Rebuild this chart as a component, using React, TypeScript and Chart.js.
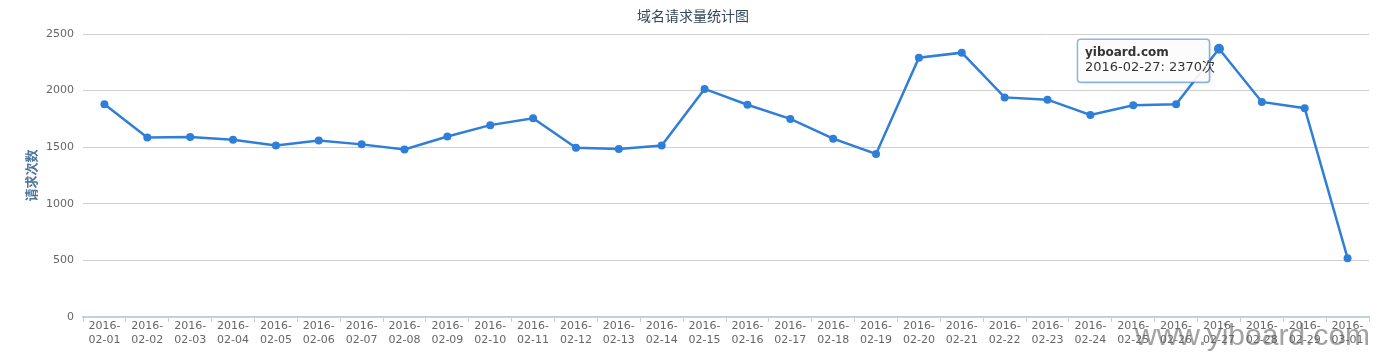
import React, { useEffect, useRef } from "react";
import { Chart, registerables } from "chart.js";

Chart.register(...registerables);

const titleText = "域名请求量统计图";
const yAxisTitle = "请求次数";
const seriesName = "yiboard.com";
const unitSuffix = "次";
const watermark = "www.yiboard.com";

const categories = [
  "2016-02-01", "2016-02-02", "2016-02-03", "2016-02-04", "2016-02-05",
  "2016-02-06", "2016-02-07", "2016-02-08", "2016-02-09", "2016-02-10",
  "2016-02-11", "2016-02-12", "2016-02-13", "2016-02-14", "2016-02-15",
  "2016-02-16", "2016-02-17", "2016-02-18", "2016-02-19", "2016-02-20",
  "2016-02-21", "2016-02-22", "2016-02-23", "2016-02-24", "2016-02-25",
  "2016-02-26", "2016-02-27", "2016-02-28", "2016-02-29", "2016-03-01",
];

const requests = [
  1880, 1585, 1590, 1565, 1515, 1560, 1525, 1480, 1595, 1695,
  1755, 1495, 1485, 1515, 2015, 1875, 1750, 1575, 1440, 2290,
  2335, 1940, 1920, 1785, 1870, 1880, 2370, 1900, 1845, 520,
];

const yTicks = [0, 500, 1000, 1500, 2000, 2500];
const highlightIndex = 26;

const lineColor = "#2f7ed8";

export default function App() {
  const ref = useRef<HTMLCanvasElement | null>(null);

  useEffect(() => {
    if (!ref.current) return;

    const overlay = {
      id: "overlay",
      afterDraw(chart: any) {
        const ctx = chart.ctx;
        // title
        ctx.save();
        ctx.font = "14px 'Noto Sans CJK SC', 'DejaVu Sans', sans-serif";
        ctx.fillStyle = "#33475b";
        ctx.textAlign = "center";
        ctx.textBaseline = "middle";
        ctx.fillText(titleText, 693, 16);
        ctx.restore();

        // tooltip
        const meta = chart.getDatasetMeta(0);
        const el = meta.data[highlightIndex];
        if (el) {
          const px = el.x;
          const py = el.y;
          const w = 132;
          const h = 43;
          const left = px - 142;
          const top = py - 10;
          ctx.save();
          ctx.shadowColor = "rgba(0,0,0,0.18)";
          ctx.shadowOffsetX = 1;
          ctx.shadowOffsetY = 1;
          ctx.shadowBlur = 3;
          ctx.beginPath();
          ctx.roundRect(left + 0.5, top + 0.5, w, h, 3);
          ctx.fillStyle = "rgba(255,255,255,0.92)";
          ctx.fill();
          ctx.shadowColor = "transparent";
          ctx.lineWidth = 1.5;
          ctx.strokeStyle = "rgba(47,126,216,0.55)";
          ctx.stroke();
          ctx.fillStyle = "#333333";
          ctx.textAlign = "left";
          ctx.textBaseline = "middle";
          ctx.font = "bold 12px 'DejaVu Sans', sans-serif";
          ctx.fillText(seriesName, left + 8, top + 14);
          ctx.font = "13px 'DejaVu Sans', 'Noto Sans CJK SC', sans-serif";
          ctx.fillText(
            categories[highlightIndex] + ": " + requests[highlightIndex] + unitSuffix,
            left + 8,
            top + 29
          );
          ctx.restore();
        }

        // watermark
        ctx.save();
        ctx.font = "30px 'Liberation Sans', sans-serif";
        ctx.fillStyle = "rgba(100,100,100,0.6)";
        ctx.textAlign = "left";
        ctx.textBaseline = "alphabetic";
        ctx.fillText(watermark, 1135, 345);
        ctx.restore();
      },
    };

    const chart = new Chart(ref.current, {
      type: "line",
      data: {
        labels: categories.map((c) => ["2016-", c.slice(5)]),
        datasets: [
          {
            label: seriesName,
            data: requests,
            borderColor: lineColor,
            backgroundColor: lineColor,
            borderWidth: 2.5,
            pointRadius: (c: any) => (c.dataIndex === highlightIndex ? 5 : 4),
            pointBorderWidth: 0,
            pointBackgroundColor: lineColor,
            tension: 0,
          },
        ],
      },
      options: {
        responsive: false,
        animation: false,
        events: [],
        layout: { padding: { top: 34, left: 0, right: 8, bottom: 0 } },
        plugins: {
          legend: { display: false },
          title: { display: false },
          tooltip: { enabled: false },
        },
        scales: {
          x: {
            type: "category",
            offset: true,
            grid: {
              display: true,
              drawOnChartArea: false,
              drawTicks: true,
              tickLength: 5,
              color: "#C0D0E0",
              offset: true,
            },
            border: { display: true, color: "#C0D0E0", width: 2 },
            ticks: {
              autoSkip: false,
              maxRotation: 0,
              minRotation: 0,
              padding: -3,
              color: "#666666",
              font: { family: "'DejaVu Sans', sans-serif", size: 11, lineHeight: 1.3 },
            },
            afterFit: (s: any) => {
              s.height = 36;
            },
          },
          y: {
            min: 0,
            max: 2500,
            afterBuildTicks: (s: any) => {
              s.ticks = yTicks.map((v) => ({ value: v }));
            },
            grid: {
              color: "#d0d0d0",
              drawTicks: false,
              lineWidth: 1,
            },
            border: { display: false },
            ticks: {
              padding: 9,
              color: "#666666",
              font: { family: "'DejaVu Sans', sans-serif", size: 11 },
              callback: (v: any) => String(v),
            },
            title: {
              display: true,
              text: yAxisTitle,
              color: "#4d759e",
              font: { family: "'Noto Sans CJK SC', sans-serif", size: 13, weight: "bold" },
              padding: { top: 23, bottom: 0 },
            },
            afterFit: (s: any) => {
              s.width = 83;
            },
          },
        },
      },
      plugins: [overlay],
    });

    return () => chart.destroy();
  }, []);

  return (
    <canvas
      ref={ref}
      width={1377}
      height={353}
      style={{ position: "absolute", left: 0, top: 0, width: 1377, height: 353 }}
    />
  );
}
